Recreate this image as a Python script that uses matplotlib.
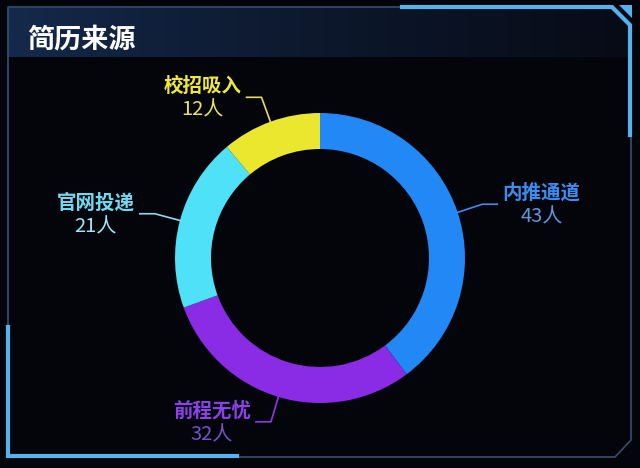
import matplotlib.pyplot as plt
import numpy as np

plt.rcParams['font.family'] = ['Noto Sans CJK SC', 'DejaVu Sans']

# 数据
names = ['内推通道', '前程无忧', '官网投递', '校招吸入']
counts = [43, 32, 21, 12]
colors = ['#2188f5', '#8a2be6', '#4fe1f8', '#ebe72e']
name_colors = ['#3a8ef2', '#8c42ea', '#72daf0', '#efe93a']
num_colors = ['#5f97dc', '#7452c8', '#a0e6f2', '#e8e25a']
line_colors = ['#3c8cf0', '#8a3ae2', '#8ed8f0', '#e6df55']
title = '简历来源'

W, H = 640, 468
fig = plt.figure(figsize=(6.4, 4.68), dpi=100, facecolor='#04050b')
ax = fig.add_axes([0, 0, 1, 1])
ax.set_facecolor('#04050b')


def Y(y):
    # 图片坐标 -> 数据坐标
    return H - y


# 标题栏渐变
grad = np.linspace(0, 1, 256).reshape(1, -1)
c0 = np.array([0x15, 0x2a, 0x4c]) / 255
c1 = np.array([0x07, 0x0b, 0x16]) / 255
img = c0 + (c1 - c0) * grad[..., None] ** 0.8
ax.imshow(img, extent=[8, 631, Y(57), Y(8)], aspect='auto', zorder=0)

# 外框
thin = '#34506f'
ax.plot([8, 8, 612, 631, 631, 615, 8], [Y(456), Y(7), Y(7), Y(26), Y(440), Y(457), Y(457)],
        color=thin, lw=1.2, zorder=1)
bright = '#56b2ee'
ax.plot([402, 612, 630, 630], [Y(7), Y(7), Y(25), Y(135)], color=bright, lw=3, zorder=2,
        solid_joinstyle='miter')
ax.fill([619, 632, 632], [Y(5), Y(5), Y(18)], color=bright, lw=0, zorder=2)
ax.plot([8, 8, 237], [Y(327), Y(456), Y(456)], color=bright, lw=3, zorder=2,
        solid_joinstyle='miter')

ax.text(27, Y(39), title, color='white', fontsize=19.5, fontweight='bold',
        ha='left', va='center', zorder=3)

# 环形图
cx, cy, R = 320, Y(258), 145
wedges, _ = ax.pie(counts, colors=colors, startangle=90, counterclock=False,
                   radius=R, center=(cx, cy),
                   wedgeprops=dict(width=36, edgecolor='none'))

for w, n, c, nc, mc, lc in zip(wedges, names, counts, name_colors, num_colors, line_colors):
    a = np.deg2rad((w.theta1 + w.theta2) / 2)
    x0, y0 = cx + R * np.cos(a), cy + R * np.sin(a)
    x1, y1 = cx + (R + 26) * np.cos(a), cy + (R + 26) * np.sin(a)
    s = 1 if np.cos(a) >= 0 else -1
    x2 = x1 + s * 15
    ax.plot([x0, x1, x2], [y0, y1, y1], color=lc, lw=1.2, zorder=3)
    tx = x2 + s * 44
    ax.text(tx, y1 + 11, n, color=nc, fontsize=14, fontweight='bold',
            ha='center', va='center', zorder=3)
    ax.text(tx, y1 - 13, f'{c}人', color=mc, fontsize=14.5,
            ha='center', va='center', zorder=3)

ax.set_xlim(0, W)
ax.set_ylim(0, H)
ax.set_aspect('auto')
ax.axis('off')

fig.savefig('out.png', dpi=100, facecolor=fig.get_facecolor())
